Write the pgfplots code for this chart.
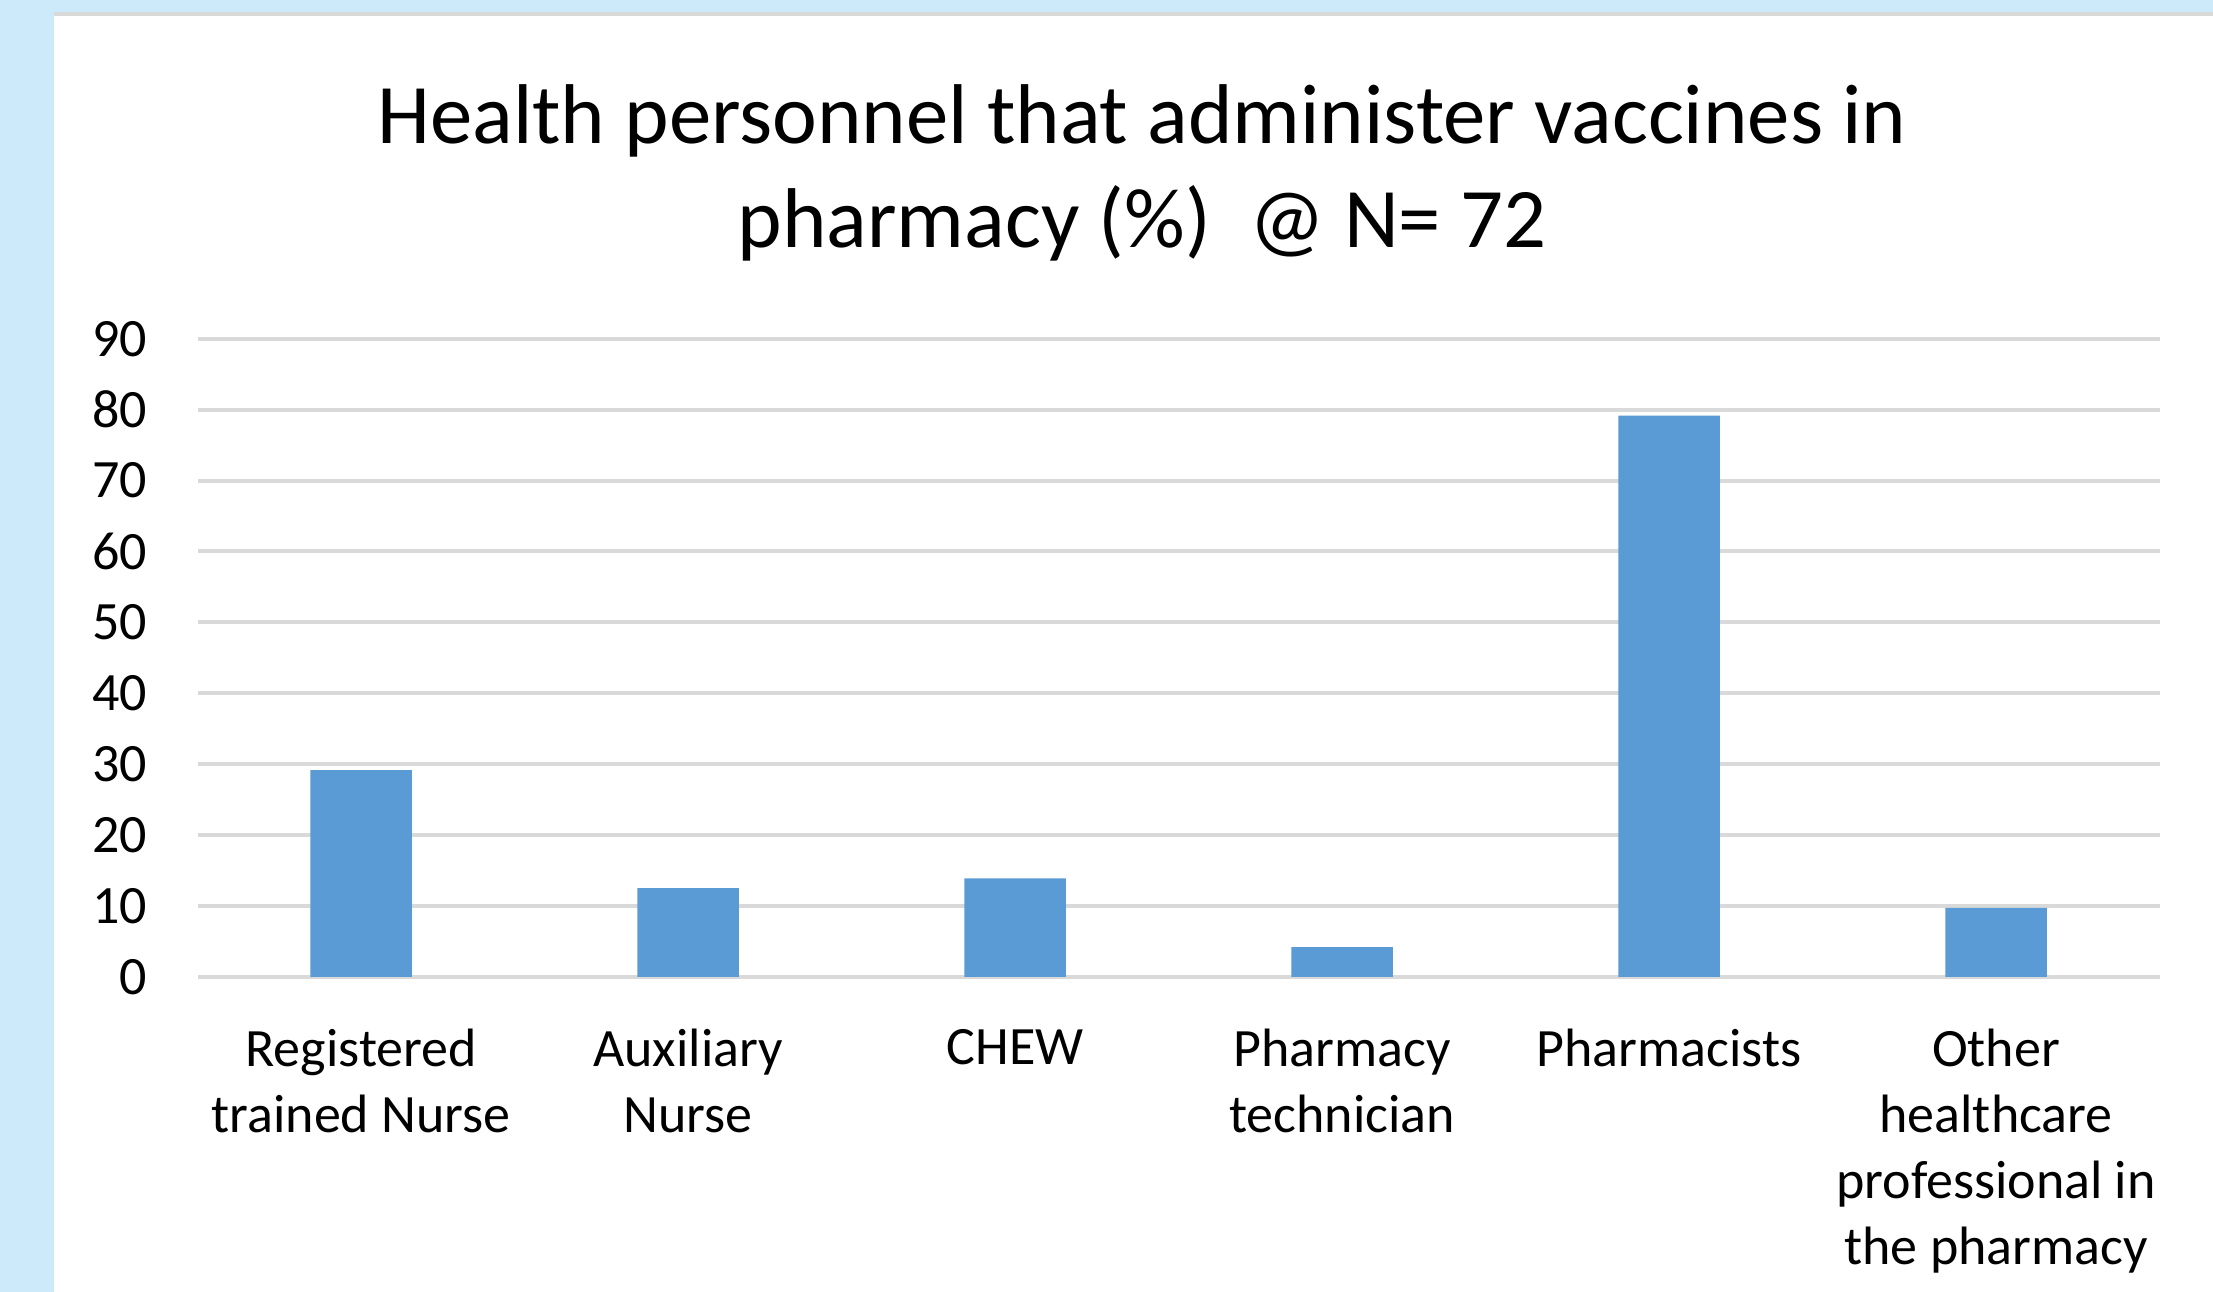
\documentclass[border=0pt]{standalone}
\usepackage{fontspec}
\setmainfont{Carlito}
\usepackage{pgfplots}
\pgfplotsset{compat=1.18}
\definecolor{bgblue}{RGB}{205,234,250}
\definecolor{gridgray}{RGB}{217,217,217}
\definecolor{barblue}{RGB}{91,155,213}

\begin{document}
\begin{tikzpicture}[x=1pt,y=1pt]
% panel background
\fill[bgblue] (0,0) rectangle (553.25,323);
\fill[white] (13.5,0) rectangle (553.25,319);
\fill[gridgray] (13.5,319) rectangle (553.25,320.1);
% title
\node[anchor=base, inner sep=0pt, font=\fontsize{21.2}{25}\selectfont] at (285.5,287) {Health personnel that administer vaccines in};
\node[anchor=base, inner sep=0pt, font=\fontsize{21.2}{25}\selectfont] at (285.5,261) {pharmacy (\%)\ \ @ N= 72};
\begin{axis}[
    at={(49.4pt,78.8pt)}, anchor=south west,
    scale only axis,
    width=490.5pt, height=159.5pt,
    ybar, bar width=25.4pt,
    xmin=-0.5, xmax=5.5,
    ymin=0, ymax=90,
    ytick={0,10,...,90},
    xtick={0,1,2,3,4,5},
    xticklabels={{Registered\\trained Nurse},{Auxiliary\\Nurse},{CHEW},{Pharmacy\\technician},{Pharmacists},{Other\\healthcare\\professional in\\the pharmacy}},
    xticklabel style={align=center, anchor=north, inner sep=0pt, yshift=-8.6pt, font=\fontsize{13.5}{16.5}\selectfont},
    yticklabel style={anchor=east, inner sep=0pt, xshift=-12.4pt, font=\fontsize{13.5}{15}\selectfont},
    /pgf/number format/assume math mode=true,
    axis line style={draw=none},
    tick style={draw=none},
    ymajorgrids=true,
    grid style={gridgray, line width=1pt},
]
\addplot[fill=barblue, draw=none] coordinates {
    (0,29.17) (1,12.5) (2,13.89) (3,4.17) (4,79.17) (5,9.72)
};
\end{axis}
\end{tikzpicture}
\end{document}
